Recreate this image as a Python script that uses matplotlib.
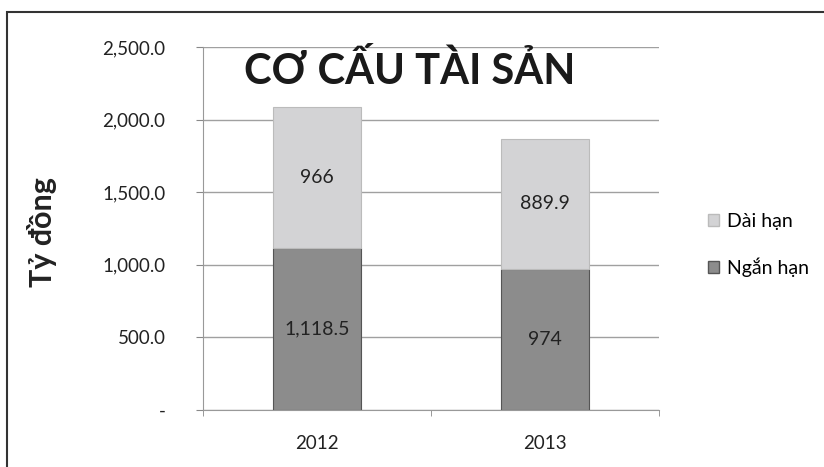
import matplotlib
matplotlib.use("Agg")
import matplotlib.pyplot as plt
from matplotlib.patches import Rectangle, Patch
from matplotlib.ticker import FuncFormatter

plt.rcParams['font.family'] = ['Lato', 'DejaVu Sans']

categories = ["2012", "2013"]
ngan_han = [1118.5, 974]
dai_han = [966, 889.9]
ngan_labels = ["1,118.5", "974"]
dai_labels = ["966", "889.9"]
title = "CƠ CẤU TÀI SẢN"
ylabel = "Tỷ đồng"
legend_labels = ["Dài hạn", "Ngắn hạn"]

c_dark = "#8c8c8c"
c_light = "#d3d3d5"

fig = plt.figure(figsize=(8.24, 4.67), dpi=100)
ax = fig.add_axes([203/824, 57/467, 456/824, 363/467])

x = range(len(categories))
ax.bar(x, ngan_han, width=0.39, color=c_dark, edgecolor="#555555", linewidth=0.8, zorder=3)
ax.bar(x, dai_han, width=0.39, bottom=ngan_han, color=c_light, edgecolor="#bbbbbb", linewidth=0.8, zorder=3)

for i in x:
    ax.text(i, ngan_han[i] / 2, ngan_labels[i], ha="center", va="center", fontsize=14, color="#222222", zorder=4)
    ax.text(i, ngan_han[i] + dai_han[i] / 2, dai_labels[i], ha="center", va="center", fontsize=14, color="#222222", zorder=4)

ax.set_xlim(-0.5, 1.5)
ax.set_ylim(0, 2500)
ax.set_yticks([0, 500, 1000, 1500, 2000, 2500])
ax.yaxis.set_major_formatter(FuncFormatter(lambda v, p: "-" if v == 0 else f"{v:,.1f}"))
ax.set_xticks(list(x))
ax.set_xticklabels(categories)
ax.set_xticks([-0.5, 0.5, 1.5], minor=True)
ax.tick_params(axis="x", which="major", length=0, labelsize=13.5, pad=18, colors="#222222")
ax.tick_params(axis="x", which="minor", length=4, color="#888888")
ax.tick_params(axis="y", length=5, color="#888888", labelsize=13.5, pad=22, colors="#222222")
ax.yaxis.grid(True, color="#a0a0a0", linewidth=1, zorder=0)
for s in ["top", "right"]:
    ax.spines[s].set_visible(False)
ax.spines["left"].set_color("#999999")
ax.spines["bottom"].set_color("#999999")

fig.text(410/824, 1 - 70/467, title, ha="center", va="center", fontsize=30, fontweight="bold",
         family=['Liberation Sans Narrow', 'Lato', 'DejaVu Sans'], color="#1a1a1a", zorder=5)

fig.text(42/824, 1 - 232/467, ylabel, rotation=90, ha="center", va="center", fontsize=22, fontweight="bold", color="#222222")

handles = [Patch(facecolor=c_light, edgecolor="#bbbbbb"), Patch(facecolor=c_dark, edgecolor="#555555")]
fig.legend(handles, legend_labels, loc="center left", bbox_to_anchor=(690/824, 1 - 245/467), frameon=False,
           fontsize=14, handlelength=0.6, handleheight=0.6, handletextpad=0.4, labelspacing=1.4)

fig.patches.append(Rectangle((7/824, -0.1), 1.2, 1 - 12/467 + 0.1, transform=fig.transFigure,
                             fill=False, edgecolor="#333333", linewidth=1.5))

fig.savefig("out.png", dpi=100)
